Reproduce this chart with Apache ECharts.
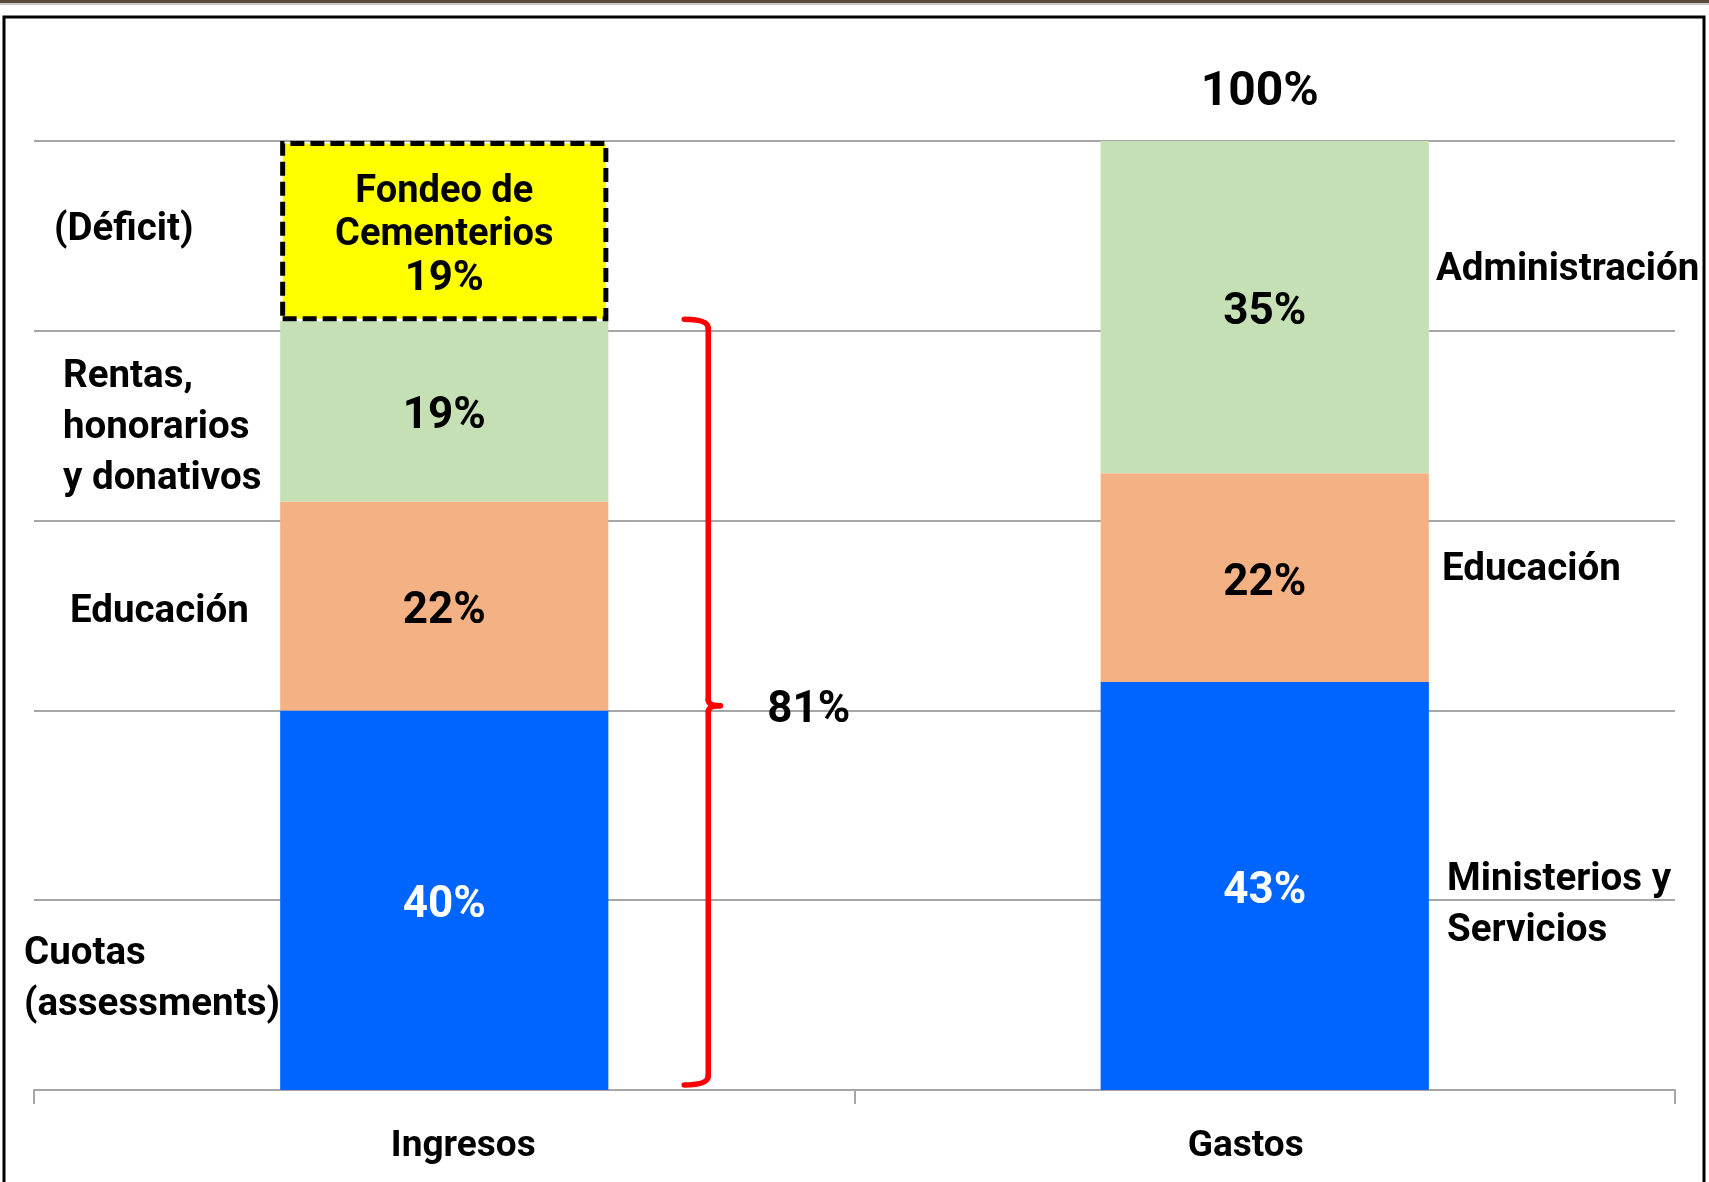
<!DOCTYPE html>
<html>
<head>
<meta charset="utf-8">
<script src="https://cdn.jsdelivr.net/npm/echarts@6/dist/echarts.min.js"></script>
<style>
html,body{margin:0;padding:0;background:#fff;}
#chart{width:1709px;height:1182px;}
</style>
</head>
<body>
<div id="chart"></div>
<script>
// ---- data ----
const categories = ['Ingresos', 'Gastos'];
const cuotasMinisterios = [40, 43];      // blue
const educacion = [22, 22];              // orange
const rentasAdministracion = [19, 35];   // green
const fondeoCementerios = [19, null];    // yellow (déficit)
const yTicks = [0, 20, 40, 60, 80, 100];
const leftLabels = [
  { text: '(Déficit)', x: 54, y: 230 },
  { text: 'Rentas,\nhonorarios\ny donativos', x: 63, y: 428 },
  { text: 'Educación', x: 70, y: 612 },
  { text: 'Cuotas\n(assessments)', x: 24, y: 980 }
];
const rightLabels = [
  { text: 'Administración', x: 1436, y: 270 },
  { text: 'Educación', x: 1442, y: 570 },
  { text: 'Ministerios y\nServicios', x: 1447, y: 906 }
];

const FONT = "Roboto, 'Noto Sans', sans-serif";
const FS_SIDE = 38.5;
const FS_VAL = 44;

const chart = echarts.init(document.getElementById('chart'), null, { renderer: 'canvas' });

function barLabel(color) {
  return {
    show: true, position: 'inside', offset: [0, 6], color: color,
    fontFamily: FONT, fontWeight: 'bold', fontSize: FS_VAL,
    formatter: p => p.value + '%'
  };
}

const option = {
  animation: false,
  backgroundColor: '#ffffff',
  grid: { left: 34, right: 34, top: 141, bottom: 92 },
  xAxis: {
    type: 'category',
    data: categories,
    axisLine: { lineStyle: { color: '#A6A6A6', width: 2 } },
    axisTick: { show: true, length: 14, lineStyle: { color: '#A6A6A6', width: 2 } },
    axisLabel: {
      margin: 32,
      fontFamily: FONT, fontWeight: 'bold', fontSize: 37, color: '#000', lineHeight: 50,
      formatter: (v, i) => (i === 0 ? '{a|' + v + '}' : '{b|' + v + '}'),
      rich: {
        a: { padding: [0, 0, 0, 38], fontFamily: FONT, fontWeight: 'bold', fontSize: 37, color: '#000', lineHeight: 50 },
        b: { padding: [0, 38, 0, 0], fontFamily: FONT, fontWeight: 'bold', fontSize: 37, color: '#000', lineHeight: 50 }
      }
    }
  },
  yAxis: {
    type: 'value',
    min: yTicks[0], max: yTicks[yTicks.length - 1], interval: yTicks[1] - yTicks[0],
    axisLabel: { show: false },
    axisLine: { show: false },
    axisTick: { show: false },
    splitLine: { lineStyle: { color: '#A6A6A6', width: 2 } }
  },
  series: [
    {
      name: 'Cuotas / Ministerios y Servicios', type: 'bar', stack: 'total', barWidth: '40%',
      data: cuotasMinisterios, itemStyle: { color: '#0064FF' },
      label: barLabel('#ffffff')
    },
    {
      name: 'Educación', type: 'bar', stack: 'total', barWidth: '40%',
      data: educacion, itemStyle: { color: '#F4B183' },
      label: barLabel('#000000')
    },
    {
      name: 'Rentas / Administración', type: 'bar', stack: 'total', barWidth: '40%',
      data: rentasAdministracion, itemStyle: { color: '#C5E0B4' },
      label: barLabel('#000000')
    },
    {
      name: 'Fondeo de Cementerios', type: 'bar', stack: 'total', barWidth: '40%',
      data: fondeoCementerios,
      itemStyle: { color: '#FFFF00', borderColor: '#000000', borderWidth: 5, borderType: [14, 6] },
      label: {
        show: true, position: 'inside', offset: [0, 5], color: '#000',
        fontFamily: FONT, fontWeight: 'bold',
        formatter: p => '{t|Fondeo de}\n{t|Cementerios}\n{v|' + p.value + '%}',
        rich: {
          t: { fontFamily: FONT, fontWeight: 'bold', fontSize: 38, lineHeight: 43, color: '#000' },
          v: { fontFamily: FONT, fontWeight: 'bold', fontSize: 42, lineHeight: 45, color: '#000' }
        }
      }
    }
  ]
};
chart.setOption(option);

// ---- annotations computed from the axes ----
const ingresosTotal = cuotasMinisterios[0] + educacion[0] + rentasAdministracion[0];
const gastosTotal = cuotasMinisterios[1] + educacion[1] + rentasAdministracion[1];

const cx0 = chart.convertToPixel({ xAxisIndex: 0 }, categories[0]);
const cx1 = chart.convertToPixel({ xAxisIndex: 0 }, categories[1]);
const yTop = chart.convertToPixel({ yAxisIndex: 0 }, ingresosTotal) - 2;
const yBot = chart.convertToPixel({ yAxisIndex: 0 }, 0) - 5;
const yMid = chart.convertToPixel({ yAxisIndex: 0 }, ingresosTotal / 2);
const yGastosTop = chart.convertToPixel({ yAxisIndex: 0 }, gastosTotal);

const xv = cx0 + 264, xl = xv - 24, xr = xv + 12, r = 9;
const braceStyle = { fill: null, stroke: '#FF0000', lineWidth: 5.5, lineCap: 'round' };
const braceParts = [
  { type: 'bezierCurve', shape: { x1: xl, y1: yTop, x2: xv, y2: yTop + r, cpx1: xv, cpy1: yTop } },
  { type: 'line', shape: { x1: xv, y1: yTop + r, x2: xv, y2: yMid - 6 } },
  { type: 'bezierCurve', shape: { x1: xv, y1: yMid - 6, x2: xr, y2: yMid, cpx1: xv, cpy1: yMid } },
  { type: 'bezierCurve', shape: { x1: xr, y1: yMid, x2: xv, y2: yMid + 6, cpx1: xv, cpy1: yMid } },
  { type: 'line', shape: { x1: xv, y1: yMid + 6, x2: xv, y2: yBot - r } },
  { type: 'bezierCurve', shape: { x1: xv, y1: yBot - r, x2: xl, y2: yBot, cpx1: xv, cpy1: yBot } }
].map(e => Object.assign(e, { z: 100, style: braceStyle }));

const textEl = (t, x, y, align, size) => ({
  type: 'text', z: 100,
  style: {
    text: t, x: x, y: y, align: align || 'left', verticalAlign: 'middle',
    font: 'bold ' + (size || FS_SIDE) + 'px ' + FONT, fill: '#000', lineHeight: 51
  }
});

const graphics = [
  // top band
  { type: 'rect', shape: { x: 0, y: 0, width: 1709, height: 3 }, style: { fill: '#5a4b3a' } },
  { type: 'rect', shape: { x: 0, y: 3, width: 1709, height: 2 }, style: { fill: '#c8c8c8' } },
  // frame
  { type: 'rect', shape: { x: 4, y: 17, width: 1700, height: 1180 }, style: { fill: null, stroke: '#000', lineWidth: 3 } }
].concat(braceParts);
graphics.push(textEl(ingresosTotal + '%', xr + 47, yMid + 5, 'left', FS_VAL));
graphics.push(textEl(gastosTotal + '%', cx1 - 5, yGastosTop - 48, 'center', 48));
leftLabels.forEach(l => graphics.push(textEl(l.text, l.x, l.y)));
rightLabels.forEach(l => graphics.push(textEl(l.text, l.x, l.y)));
chart.setOption({ graphic: graphics });
</script>
</body>
</html>
